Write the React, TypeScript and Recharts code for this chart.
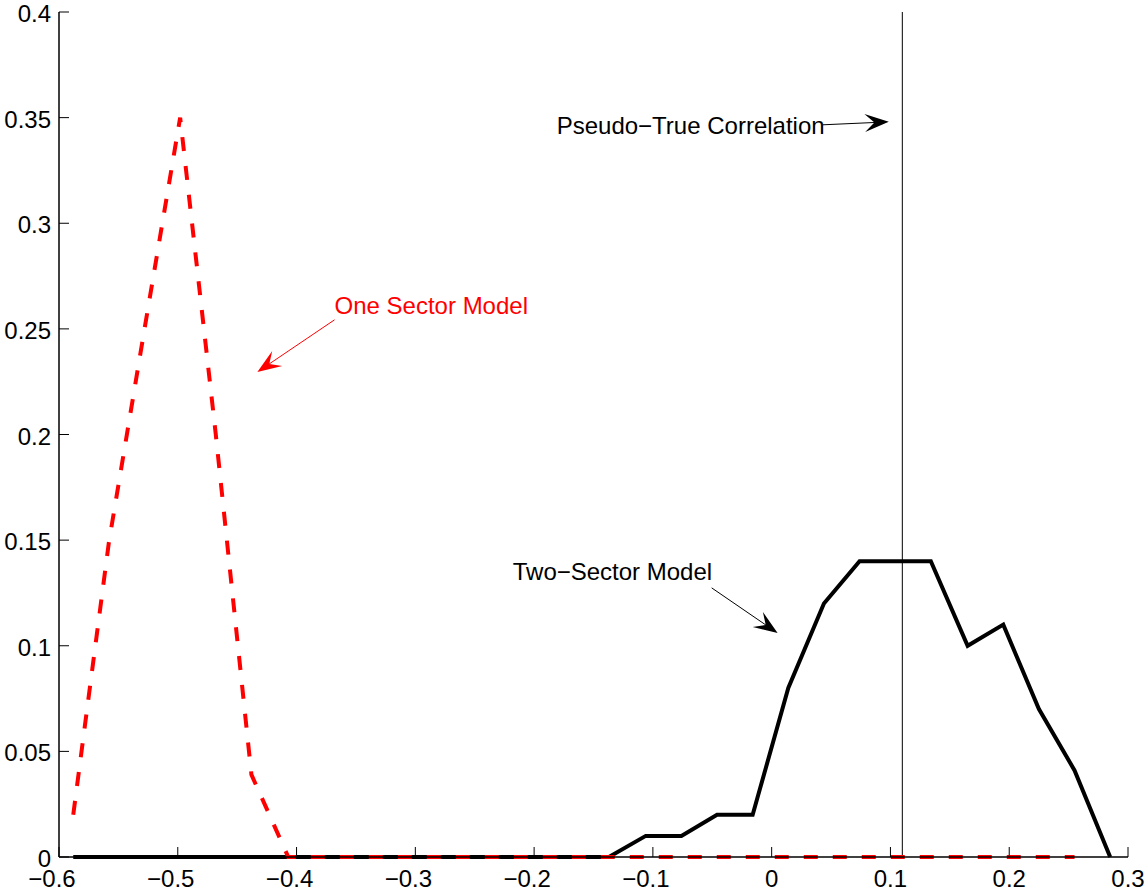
import React from 'react';
import {
  LineChart,
  Line,
  XAxis,
  YAxis,
  ReferenceLine,
  ReferenceDot
} from 'recharts';

// bin centres of the histogram (correlation)
const xValues = [
  -0.588, -0.558, -0.528, -0.498, -0.468, -0.438, -0.407, -0.377, -0.347, -0.317,
  -0.287, -0.257, -0.227, -0.197, -0.167, -0.137, -0.106, -0.076, -0.046, -0.016,
  0.014, 0.044, 0.074, 0.104, 0.134, 0.165, 0.195, 0.225, 0.255, 0.285
];

// Two-Sector Model frequencies (black solid)
const twoSector = [
  0, 0, 0, 0, 0, 0, 0, 0, 0, 0,
  0, 0, 0, 0, 0, 0, 0.01, 0.01, 0.02, 0.02,
  0.08, 0.12, 0.14, 0.14, 0.14, 0.1, 0.11, 0.07, 0.041, 0
];

// One Sector Model frequencies (red dashed)
const oneSector = [
  0.02, 0.149, 0.25, 0.35, 0.2, 0.039, 0, 0, 0, 0,
  0, 0, 0, 0, 0, 0, 0, 0, 0, 0,
  0, 0, 0, 0, 0, 0, 0, 0, 0
];

const xTicks = [-0.6, -0.5, -0.4, -0.3, -0.2, -0.1, 0, 0.1, 0.2, 0.3];
const yTicks = [0, 0.05, 0.1, 0.15, 0.2, 0.25, 0.3, 0.35, 0.4];

const pseudoTrue = 0.11;

const data = xValues.map((x, i) => ({ x, two: twoSector[i], one: oneSector[i] }));

const FONT = '"Liberation Sans", Arial, Helvetica, sans-serif';
const FS = 24;
const TICK = 10;

const fmt = (v: number) => (v < 0 ? '\u2212' + String(Math.abs(v)) : String(v));

// matlab centres the digits, the minus sign hangs to the left
const BottomTick = (props: any) => {
  const { x, y, payload } = props;
  const shift = payload.value < 0 ? -7 : 0;
  return (
    <g>
      <line x1={x} y1={y} x2={x} y2={y - TICK} stroke="#000" strokeWidth={1} />
      <text x={x + shift} y={y + 30} textAnchor="middle" fontSize={FS} fontFamily={FONT} fill="#000">
        {fmt(payload.value)}
      </text>
    </g>
  );
};

const TopTick = (props: any) => {
  const { x, y } = props;
  return <line x1={x} y1={y} x2={x} y2={y + TICK} stroke="#000" strokeWidth={1} />;
};

const LeftTick = (props: any) => {
  const { x, y, payload } = props;
  return (
    <g>
      <line x1={x} y1={y} x2={x + TICK} y2={y} stroke="#000" strokeWidth={1} />
      <text x={x - 8} y={y + 10} textAnchor="end" fontSize={FS} fontFamily={FONT} fill="#000">
        {fmt(payload.value)}
      </text>
    </g>
  );
};

const RightTick = (props: any) => {
  const { x, y } = props;
  return <line x1={x} y1={y} x2={x - TICK} y2={y} stroke="#000" strokeWidth={1} />;
};

// line with a matlab-like arrow head at its end
const arrow = (color: string) => (props: any) => {
  const { x1, y1, x2, y2 } = props;
  const a = Math.atan2(y2 - y1, x2 - x1);
  const L = 24;
  const W = 9;
  const cos = Math.cos(a);
  const sin = Math.sin(a);
  const pt = (dx: number, dy: number) => `${x2 + dx * cos - dy * sin},${y2 + dx * sin + dy * cos}`;
  return (
    <g>
      <line x1={x1} y1={y1} x2={x2 - 10 * cos} y2={y2 - 10 * sin} stroke={color} strokeWidth={1} />
      <polygon points={[pt(0, 0), pt(-L, W), pt(-L * 0.6, 0), pt(-L, -W)].join(' ')} fill={color} />
    </g>
  );
};

const label = (text: string, color: string) => (props: any) => (
  <text x={props.cx} y={props.cy} fontSize={FS} fontFamily={FONT} fill={color}>
    {text}
  </text>
);

const App = () => (
  <div style={{ position: 'absolute', left: 0, top: 0, width: 1148, height: 893, background: '#fff' }}>
    <LineChart width={1148} height={893} data={data} margin={{ top: 12, right: 20, bottom: 0, left: 0 }}>
      <XAxis
        dataKey="x"
        type="number"
        domain={[-0.6, 0.3]}
        ticks={xTicks}
        height={36}
        tickSize={0}
        tickMargin={0}
        tick={<BottomTick />}
        axisLine={{ stroke: '#000', strokeWidth: 1.5 }}
        allowDataOverflow
      />
      <XAxis
        xAxisId="top"
        orientation="top"
        dataKey="x"
        type="number"
        domain={[-0.6, 0.3]}
        ticks={xTicks}
        height={0}
        tickSize={0}
        tickMargin={0}
        tick={<TopTick />}
        axisLine={{ stroke: '#000', strokeWidth: 1 }}
      />
      <YAxis
        type="number"
        domain={[0, 0.4]}
        ticks={yTicks}
        width={59}
        tickSize={0}
        tickMargin={0}
        tick={<LeftTick />}
        axisLine={{ stroke: '#000', strokeWidth: 1.5 }}
      />
      <YAxis
        yAxisId="right"
        orientation="right"
        type="number"
        domain={[0, 0.4]}
        ticks={yTicks}
        width={0}
        tickSize={0}
        tickMargin={0}
        tick={<RightTick />}
        axisLine={{ stroke: '#000', strokeWidth: 1 }}
      />

      <ReferenceLine x={pseudoTrue} stroke="#000" strokeWidth={1} />

      <Line
        type="linear"
        dataKey="two"
        stroke="#000"
        strokeWidth={4}
        dot={false}
        activeDot={false}
        isAnimationActive={false}
      />
      <Line
        type="linear"
        dataKey="one"
        stroke="#ff0000"
        strokeWidth={4}
        strokeDasharray="14 15"
        dot={false}
        activeDot={false}
        isAnimationActive={false}
      />

      <ReferenceDot x={-0.181} y={0.3423} r={0} shape={label('Pseudo\u2212True Correlation', '#000')} />
      <ReferenceLine
        segment={[{ x: 0.043, y: 0.3466 }, { x: 0.0986, y: 0.348 }]}
        shape={arrow('#000')}
      />

      <ReferenceDot x={-0.368} y={0.2571} r={0} shape={label('One Sector Model', '#ff0000')} />
      <ReferenceLine
        segment={[{ x: -0.368, y: 0.2543 }, { x: -0.433, y: 0.2296 }]}
        shape={arrow('#ff0000')}
      />

      <ReferenceDot x={-0.218} y={0.1312} r={0} shape={label('Two\u2212Sector Model', '#000')} />
      <ReferenceLine
        segment={[{ x: -0.0505, y: 0.1274 }, { x: 0.005, y: 0.106 }]}
        shape={arrow('#000')}
      />
    </LineChart>
  </div>
);

export default App;
